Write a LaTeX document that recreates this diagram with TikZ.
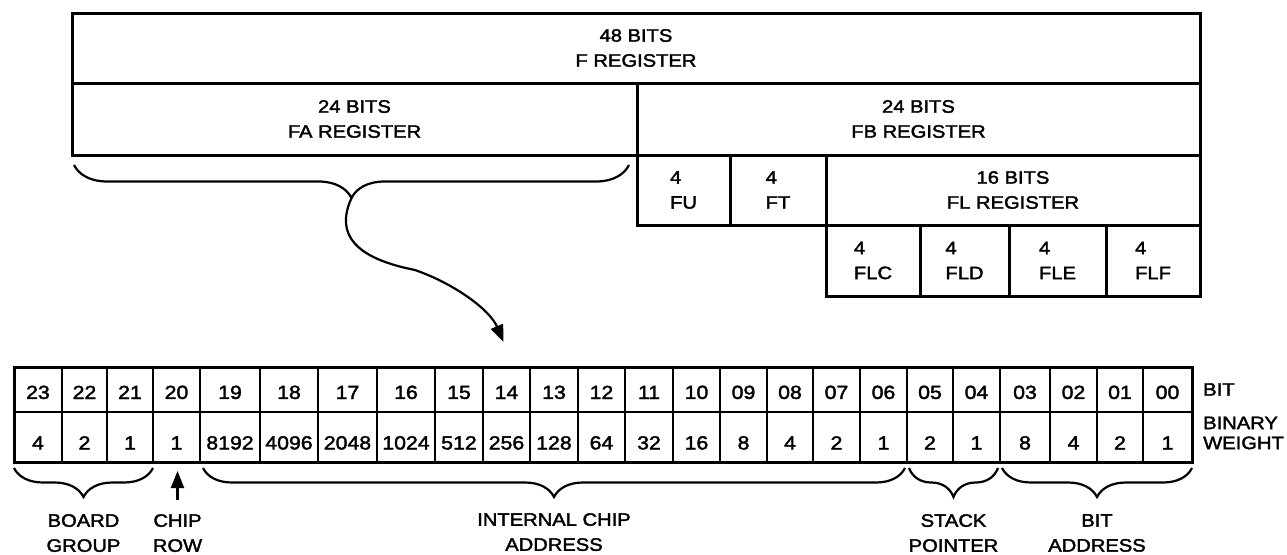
\documentclass[tikz,border=0pt]{standalone}
\usepackage{fontspec}
\setmainfont{Liberation Sans}[FakeStretch=1.12, FakeBold=2]
\usepackage{xcolor}
\usepackage{tikz}
\usetikzlibrary{decorations.pathreplacing, arrows.meta, positioning, calc}
\newcommand{\regfont}{\fontsize{18}{25}\selectfont}
\newcommand{\cellfont}{\fontsize{19}{25}\selectfont}
\newcommand{\wtfont}{\fontsize{18}{20}\selectfont}

\begin{document}
\begin{tikzpicture}[x=1pt, y=-1pt,
    regbox/.style={draw, line width=3pt, outer sep=0pt, inner sep=0pt, align=center, font=\regfont},
    nibble/.style={regbox, align=left},
    bitcell/.style={draw, line width=1.6pt, outer sep=0pt, inner sep=0pt, font=\cellfont},
    lbl/.style={inner sep=0pt, align=center, font=\regfont},
    bracedec/.style={decorate, decoration={brace, mirror, amplitude=#1}, line width=2.2pt},
    bracedec/.default=29pt,
    curvearrow/.style={line width=2.2pt, -{Triangle[length=17pt, width=13pt]}}]
    \useasboundingbox (0,0) rectangle (1287,554);

    % 48 位 F 寄存器
    \node[regbox, minimum width=1128pt, minimum height=70pt, anchor=north west] (F) at (72,13) {48 BITS\\F REGISTER};
    \node[regbox, minimum width=565pt, minimum height=72pt, below right=0pt and 0pt of F.south west] (FA) {24 BITS\\FA REGISTER};
    \node[regbox, minimum width=563pt, minimum height=72pt, right=0pt of FA] (FB) {24 BITS\\FB REGISTER};

    % FB 拆分
    \node[nibble, minimum width=93pt, minimum height=70pt, below right=0pt and 0pt of FB.south west] (FU) {4\\FU};
    \node[nibble, minimum width=96pt, minimum height=70pt, right=0pt of FU] (FT) {4\\FT};
    \node[regbox, minimum width=374pt, minimum height=70pt, right=0pt of FT] (FL) {16 BITS\\FL REGISTER};

    % FL 拆分
    \node[nibble, minimum width=94pt, minimum height=71pt, below right=0pt and 0pt of FL.south west] (FLC) {4\\FLC};
    \node[nibble, minimum width=89pt, minimum height=71pt, right=0pt of FLC] (FLD) {4\\FLD};
    \node[nibble, minimum width=97pt, minimum height=71pt, right=0pt of FLD] (FLE) {4\\FLE};
    \node[nibble, minimum width=94pt, minimum height=71pt, right=0pt of FLE] (FLF) {4\\FLF};

    % 地址字段表
    \foreach \bit/\wt/\xl/\xr in {23/4/14/62, 22/2/62/107, 21/1/107/153, 20/1/153/200,
        19/8192/200/260, 18/4096/260/318, 17/2048/318/377, 16/1024/377/435,
        15/512/435/483, 14/256/483/530, 13/128/530/578, 12/64/578/625,
        11/32/625/673, 10/16/673/720, 09/8/720/767, 08/4/767/813,
        07/2/813/860, 06/1/860/907, 05/2/907/953, 04/1/953/1000,
        03/8/1000/1050, 02/4/1050/1097, 01/2/1097/1143, 00/1/1143/1192}
    {
        \node[bitcell, text height=19pt, minimum width={(\xr-\xl)*1pt}, minimum height=45pt] (b\bit) at ({(\xl+\xr)/2}, 389.5) {\bit};
        \node[bitcell, text height=25pt, minimum width={(\xr-\xl)*1pt}, minimum height=50pt] (w\bit) at ({(\xl+\xr)/2}, 437) {\wt};
    }
    \draw[line width=3pt] (b23.north west) rectangle (w00.south east);

    \node[lbl, right=11pt of b00] (bitLbl) {BIT};
    \node[lbl, font=\wtfont, align=left, right=11pt of w00, yshift=4pt] (wtLbl) {BINARY\\WEIGHT};

    % FA 的花括号与箭头
    \coordinate (faL) at ($(FA.south west)+(2,10)$);
    \coordinate (faR) at ($(FA.south east)+(-8,10)$);
    \draw[bracedec=33pt] (faL) -- (faR);
    \coordinate (faTip) at ($(faL)!0.5!(faR)+(0,33)$);
    \coordinate (bend) at (415,270);
    \coordinate (arrEnd) at ($(b14.north)+(-3,-25)$);
    \draw[curvearrow] (faTip) .. controls (330,245) and (375,262) .. (bend)
        .. controls (455,284) and (490,310) .. (arrEnd);

    % 下方分组
    \coordinate (bgL) at ($(w23.south west)+(0,6)$);
    \coordinate (bgR) at ($(w21.south east)+(0,6)$);
    \draw[bracedec] (bgL) -- (bgR);
    \coordinate (bgTip) at ($(bgL)!0.5!(bgR)+(0,29)$);
    \node[lbl, below=17pt of bgTip] (bgLbl) {BOARD\\GROUP};

    \coordinate (crTail) at ($(w20.south)+(1,38)$);
    \draw[curvearrow, shorten >=9pt] (crTail) -- ($(w20.south)+(1,0)$);
    \node[lbl, below=14pt of crTail] (crLbl) {CHIP\\ROW};

    \coordinate (icL) at ($(w19.south west)+(3,6)$);
    \coordinate (icR) at ($(w06.south east)+(-2,6)$);
    \draw[bracedec] (icL) -- (icR);
    \coordinate (icTip) at ($(icL)!0.5!(icR)+(0,29)$);
    \node[lbl, below=16pt of icTip] (icLbl) {INTERNAL CHIP\\ADDRESS};

    \coordinate (spL) at ($(w05.south west)+(2,6)$);
    \coordinate (spR) at ($(w04.south east)+(-2,6)$);
    \draw[bracedec] (spL) -- (spR);
    \coordinate (spTip) at ($(spL)!0.5!(spR)+(0,29)$);
    \node[lbl, below=17pt of spTip] (spLbl) {STACK\\POINTER};

    \coordinate (baL) at ($(w03.south west)+(2,6)$);
    \coordinate (baR) at ($(w00.south east)+(0,6)$);
    \draw[bracedec] (baL) -- (baR);
    \coordinate (baTip) at ($(baL)!0.5!(baR)+(0,29)$);
    \node[lbl, below=17pt of baTip] (baLbl) {BIT\\ADDRESS};
\end{tikzpicture}
\end{document}
